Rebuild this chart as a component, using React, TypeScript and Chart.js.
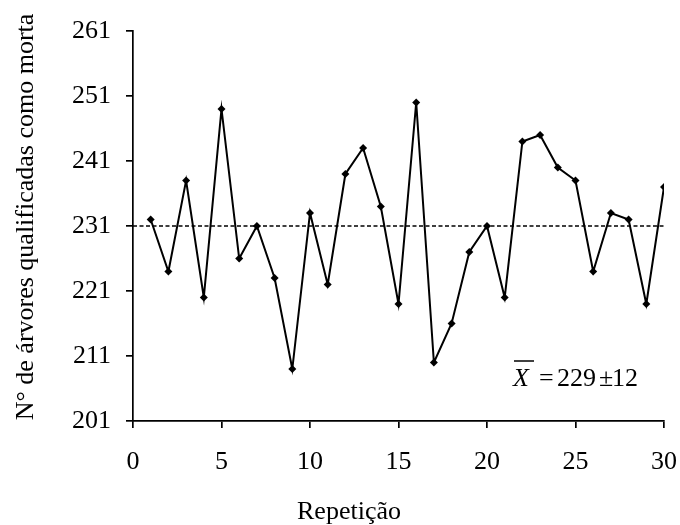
import React, { useEffect, useRef } from "react";
import { Chart, registerables } from "chart.js";

Chart.register(...registerables);

// ---- Data ----
const repeticoes = [1, 2, 3, 4, 5, 6, 7, 8, 9, 10, 11, 12, 13, 14, 15, 16, 17, 18, 19, 20, 21, 22, 23, 24, 25, 26, 27, 28, 29, 30];
const arvores = [232, 224, 238, 220, 249, 226, 231, 223, 209, 233, 222, 239, 243, 234, 219, 250, 210, 216, 227, 231, 220, 244, 245, 240, 238, 224, 233, 232, 219, 237];
const mediaX = [0, 30];
const mediaValor = 231;
const xTicks = [0, 5, 10, 15, 20, 25, 30];
const yTicks = [201, 211, 221, 231, 241, 251, 261];

const yTitle = "N° de árvores qualificadas como morta";
const xTitle = "Repetição";
const annotMean = "229";
const annotSd = "12";

const FONT = '"Liberation Serif", "Times New Roman", serif';
const FS = 26;

const textPlugin = {
  id: "customText",
  afterDraw(chart: any) {
    const ctx = chart.ctx as CanvasRenderingContext2D;
    const area = chart.chartArea;
    ctx.save();
    ctx.fillStyle = "#000";
    ctx.font = `${FS}px ${FONT}`;
    // Y title
    ctx.save();
    ctx.translate(33, (area.top + area.bottom) / 2 - 9);
    ctx.rotate(-Math.PI / 2);
    ctx.textAlign = "center";
    ctx.textBaseline = "alphabetic";
    ctx.fillText(yTitle, 0, 0);
    ctx.restore();
    // X title
    ctx.textAlign = "center";
    ctx.textBaseline = "alphabetic";
    ctx.fillText(xTitle, 349, 519);
    // Annotation: X-bar = 229 ± 12
    const bx = area.right - 151;
    const by = area.bottom - 35;
    ctx.textAlign = "left";
    ctx.font = `italic ${FS}px ${FONT}`;
    ctx.fillText("X", bx, by);
    ctx.font = `${FS}px ${FONT}`;
    ctx.strokeStyle = "#000";
    ctx.lineWidth = 1.5;
    ctx.beginPath();
    ctx.moveTo(bx + 1, by - 25);
    ctx.lineTo(bx + 21, by - 25);
    ctx.stroke();
    ctx.fillText("=", bx + 26, by);
    ctx.fillText(annotMean, bx + 44, by);
    ctx.fillText("±", bx + 86, by);
    ctx.fillText(annotSd, bx + 99, by);
    ctx.restore();
  },
};

export default function App() {
  const ref = useRef<HTMLCanvasElement | null>(null);
  useEffect(() => {
    if (!ref.current) return;
    const chart = new Chart(ref.current, {
      type: "line",
      data: {
        datasets: [
          {
            label: "Árvores",
            data: repeticoes.map((r, i) => ({ x: r, y: arvores[i] })),
            borderColor: "#000",
            backgroundColor: "#000",
            borderWidth: 2,
            pointStyle: "rectRot",
            pointRadius: 4,
            pointBorderWidth: 0,
            pointBackgroundColor: "#000",
            tension: 0,
          },
          {
            label: "Média",
            data: mediaX.map((x) => ({ x, y: mediaValor })),
            borderColor: "#000",
            borderWidth: 1.7,
            borderDash: [4, 2.5],
            pointRadius: 0,
            tension: 0,
          },
        ],
      },
      options: {
        responsive: false,
        animation: false,
        layout: { padding: { left: 0, top: 31, right: 16, bottom: 0 } },
        plugins: { legend: { display: false }, tooltip: { enabled: false }, title: { display: false } },
        scales: {
          x: {
            type: "linear",
            min: 0,
            max: 30,
            afterBuildTicks: (s: any) => {
              s.ticks = xTicks.map((v) => ({ value: v }));
            },
            afterFit: (s: any) => {
              s.height = 104;
              s.paddingLeft = 0;
              s.paddingRight = 0;
            },
            ticks: {
              color: "#000",
              font: { family: FONT, size: FS },
              padding: 19,
              maxRotation: 0,
              autoSkip: false,
            },
            grid: { display: true, drawOnChartArea: false, drawTicks: true, tickLength: 7, color: "#000", lineWidth: 1.7 },
            border: { display: true, color: "#000", width: 1.7 },
          },
          y: {
            type: "linear",
            min: 201,
            max: 261,
            afterBuildTicks: (s: any) => {
              s.ticks = yTicks.map((v) => ({ value: v }));
            },
            afterFit: (s: any) => {
              s.width = 133;
              s.paddingTop = 0;
              s.paddingBottom = 0;
            },
            ticks: {
              color: "#000",
              font: { family: FONT, size: FS },
              padding: 15,
              autoSkip: false,
            },
            grid: { display: true, drawOnChartArea: false, drawTicks: true, tickLength: 7, color: "#000", lineWidth: 1.7 },
            border: { display: true, color: "#000", width: 1.7 },
          },
        },
      },
      plugins: [textPlugin],
    });
    return () => chart.destroy();
  }, []);
  return (
    <div style={{ position: "absolute", left: 0, top: 0, width: 680, height: 525, background: "#fff" }}>
      <canvas ref={ref} width={680} height={525} style={{ display: "block" }} />
    </div>
  );
}
